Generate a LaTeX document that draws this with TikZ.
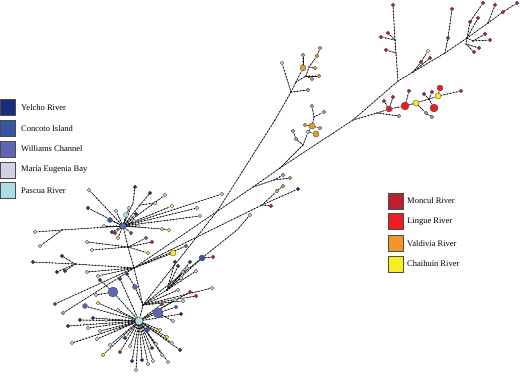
\documentclass[tikz,border=0pt]{standalone}
\usepackage{fontspec}
\setmainfont{Liberation Serif}
\usetikzlibrary{decorations.markings}
\pgfdeclarelayer{bg}
\pgfsetlayers{bg,main}
\definecolor{yel}{RGB}{28,45,125}
\definecolor{con}{RGB}{55,85,165}
\definecolor{wil}{RGB}{95,100,180}
\definecolor{mar}{RGB}{208,208,230}
\definecolor{pas}{RGB}{172,222,232}
\definecolor{mon}{RGB}{192,30,45}
\definecolor{lin}{RGB}{236,28,36}
\definecolor{val}{RGB}{242,150,40}
\definecolor{cha}{RGB}{248,236,35}
\definecolor{tan}{RGB}{190,160,115}
\tikzset{
 hap/.style={circle, draw=black!70, line width=0.35pt, inner sep=0pt, minimum size=3.6pt},
 link/.style={draw=black!85, line width=0.4pt, postaction={decorate, decoration={markings, mark=between positions 0 and 1 step 3.2pt with {\fill[black] (0,0) circle (0.65pt);}}}},
 keybox/.style={draw=black!70, line width=0.4pt, minimum width=15pt, minimum height=16pt, inner sep=0pt},
 keytext/.style={anchor=west, font=\fontsize{8.5}{10}\selectfont, inner sep=0pt}
}
\newcommand\HN[5][3.6]{\node[hap,fill=#5,minimum size=#1pt] (#2) at (#3,#4) {};}
\newcommand\LK[2]{\begin{pgfonlayer}{bg}\draw[link] (#1) -- (#2);\end{pgfonlayer}}
\newcommand\LF[6][3.6]{\HN[#1]{#3}{#4}{#5}{#6}\LK{#2}{#3}}
\newcommand\JC[3]{\coordinate (#1) at (#2,#3);}
\begin{document}
\begin{tikzpicture}[x=1pt,y=-1pt]
\useasboundingbox (0,0) rectangle (520,377);
% ---------- legends ----------
\node[keybox,fill=yel] (k1) at (8,107.5) {};
\node[keytext] (t1) at (21,107.5) {Yelcho River};
\node[keybox,fill=con] (k2) at (8,128.3) {};
\node[keytext] (t2) at (21,128.3) {Concoto Island};
\node[keybox,fill=wil] (k3) at (8,149.1) {};
\node[keytext] (t3) at (21,149.1) {Williams Channel};
\node[keybox,fill=mar] (k4) at (8,169.9) {};
\node[keytext] (t4) at (21,169.9) {María Eugenia Bay};
\node[keybox,fill=pas] (k5) at (8,190.7) {};
\node[keytext] (t5) at (21,190.7) {Pascua River};
\node[keybox,fill=mon] (k6) at (396,201) {};
\node[keytext] (t6) at (407,201) {Moncul River};
\node[keybox,fill=lin] (k7) at (396,221.5) {};
\node[keytext] (t7) at (407,221.5) {Lingue River};
\node[keybox,fill=val] (k8) at (396,243.5) {};
\node[keytext] (t8) at (407,243.5) {Valdivia River};
\node[keybox,fill=cha] (k9) at (396,264) {};
\node[keytext] (t9) at (407,264) {Chaihuín River};
% ---------- backbone ----------
\HN[6]{c2}{123}{226}{wil}
\LF[5]{c2}{c2a}{126}{215}{pas}
\LF[5]{c2}{c2b}{110}{220}{con}
\JC{bb1}{128}{247}
\JC{vm}{134}{268}
\JC{hub}{143}{305}
\HN[8]{c1}{139}{321}{pas}
\LK{c2}{bb1}\LK{bb1}{vm}\LK{vm}{hub}\LK{hub}{c1}
% ---------- main line ----------
\JC{m1}{253}{187}\JC{m2}{280}{168}\JC{m3}{353}{120}\JC{m4}{398}{81}
\JC{mj}{413}{72}\JC{m5}{445}{53}\JC{m6}{467}{38}\JC{m6c}{488}{23}
\HN{m7}{503}{12}{mon}\HN{mend}{517}{3}{mon}
\LK{vm}{m1}\LK{m1}{m2}\LK{m2}{m3}\LK{m3}{m4}\LK{m4}{mj}\LK{mj}{m5}
\LK{m5}{m6}\LK{m6}{m6c}\LK{m6c}{m7}\LK{m7}{mend}
% north branches
\JC{nb1}{396}{53}\JC{nb2}{395}{40}
\LK{m4}{nb1}\LK{nb1}{nb2}
\LF{nb2}{n1}{393}{5}{mon}
\LF{nb1}{n2}{386}{50}{mon}
\LF{nb2}{n3}{381}{37}{mon}
\LF{nb2}{n4}{388}{33}{mon}
\HN{n6}{448}{38}{mon}\LK{m5}{n6}
\LF{n6}{n5}{452}{9}{mon}
\LF{mj}{n7}{421}{62}{mon}
\LF{n7}{n8}{428}{51}{cha!45!white}
\LF{mj}{n9}{430}{58}{mon}
\LF{m6}{n10}{470}{22}{mon}
\LF{n10}{n11}{483}{3}{mon}
\JC{m6a}{473}{41}\LK{m6}{m6a}
\LF{m6a}{n12}{485}{34}{mon}
\LF{m6a}{n13}{490}{40}{mon}
\JC{m6b}{466}{44}\LK{m6}{m6b}
\LF{m6b}{n14}{474}{52}{mon}
\LF{m6b}{n15}{479}{48}{mon}
\LF{m6c}{n16}{495}{5}{mon}
\LF{m6}{n17}{478}{18}{mon}
% red cluster
\JC{r1}{377}{113}\LK{m3}{r1}
\HN[6]{rA}{389}{109}{lin}\LK{r1}{rA}
\HN[8]{rB}{405}{106}{lin}\LK{rA}{rB}
\HN[6]{rC}{416}{103}{cha}\LK{rB}{rC}
\JC{rD}{429}{99}\LK{rC}{rD}
\HN[6]{rE}{438}{96}{cha}\LK{rD}{rE}
\LF{rE}{rEnd}{461}{91}{mon}
\LF[6]{rE}{rF}{440}{88}{lin}
\LF[8]{rD}{rG}{434}{108}{lin}
\LF{rA}{r2}{384}{101}{mon}
\LF{rA}{r3}{393}{97}{mon}
\LF{rB}{r4}{409}{91}{mon}
\LF{rD}{r5}{424}{94}{mon}
\LF{rD}{r6}{432}{92}{mon}
\LF{rC}{r7}{426}{113}{tan}
\LF{r7}{r8}{432}{117}{tan}
\LF{r1}{r9}{399}{116}{tan}
% top orange cluster
\JC{tA}{218}{210}\JC{tm}{275}{120}\JC{tB}{291}{92}\JC{tC}{296}{82}
\LK{hub}{tA}\LK{tA}{tm}\LK{tm}{tB}\LK{tB}{tC}
\LF{tB}{o1}{308}{90}{tan}
\LF{tB}{o2}{282}{63}{mar}
\HN[6]{ob}{303}{68}{val}\LK{tC}{ob}
\LF{ob}{o3}{303}{55}{tan}
\JC{tD}{306}{76}\LK{tC}{tD}
\LF{tD}{o4}{312}{79}{tan}
\LF{tD}{o5}{319}{76}{val}
\JC{tE}{309}{67}\LK{tD}{tE}
\LF{tE}{o6}{315}{68}{val}
\LF{tE}{o7}{317}{56}{val}
\LF{o7}{o8}{320}{48}{tan}
% second orange cluster
\JC{s1}{303}{145}\LK{m2}{s1}
\HN{s2}{308}{132}{pas}\LK{s1}{s2}
\HN[6]{sb1}{312}{126}{val}\LK{s2}{sb1}
\LF[6]{s2}{sb2}{316}{134}{val}
\LF{sb1}{s3}{305}{125}{val}
\JC{s4}{314}{117}\LK{sb1}{s4}
\LF{s4}{s5}{312}{106}{tan}
\LF{s4}{s6}{324}{112}{val}
\LF{sb1}{s7}{320}{128}{val}
\LF{s1}{s9}{296}{139}{tan}
\LF{s9}{s10}{293}{131}{tan}
% tan twig on main
\JC{tbj}{274}{180}\LK{m1}{tbj}
\LF{tbj}{tb1}{283}{175}{tan}
\LF{tbj}{tb2}{290}{178}{tan}
% other long lines
\JC{la1}{262}{205}\LK{vm}{la1}
\LF{la1}{la2}{298}{189}{yel}
\LF{la1}{la3}{277}{191}{cha!55!gray}
\LF{la3}{la4}{283}{186}{tan}
\LF{la1}{la5}{271}{206}{mon}
\JC{lb1}{237}{230}\LK{hub}{lb1}
\LF{lb1}{lb}{250}{215}{mar}
\LF[6]{vm}{ya}{173}{253}{cha}
\LF{vm}{yb}{186}{246}{wil}
\JC{ld1}{167}{290}\LK{hub}{ld1}
\LF[6]{ld1}{ld}{202}{258}{con}
\LF{ld}{ld2}{213}{257}{mon}
\foreach \x/\y/\c [count=\i] in {187/268/mar,190/262/yel,183/272/mar,178/266/yel,196/271/mar,181/278/mar,175/262/yel}
 {\LF{ld1}{ldf\i}{\x}{\y}{\c}}
\LF{hub}{le}{212}{288}{mar}
\LF{hub}{le2}{196}{296}{mon}
\LF{hub}{le3}{183}{301}{mar}
\LF{hub}{le4}{178}{290}{mar}
% upper cluster leaves
\LF{c2}{u1}{222}{194}{mar}
\LF{c2}{u2}{197}{208}{mar}
\LF{c2}{u2b}{200}{216}{mar}
\LF{c2}{u3}{172}{206}{cha!50!white}
\LF{c2}{u4}{165}{195}{mar}
\JC{u5j}{140}{205}\LK{c2}{u5j}
\LF{u5j}{u5}{150}{193}{yel}
\LF{u5j}{u5b}{155}{203}{mar}
\JC{u6j}{133}{203}\LK{c2}{u6j}
\LF{u6j}{u6}{135}{187}{yel}
\LF{c2}{u8}{162}{229}{mar}
\LF{u8}{u9}{169}{230}{cha}
\LF{bb1}{u10}{152}{242}{mon}
\LF{bb1}{u11}{148}{253}{cha}
\LF{bb1}{u12}{146}{238}{wil}
\LF{c2}{w1}{89}{190}{mar}
\LF{c2}{w2}{88}{208}{yel}
\JC{wj1}{62}{230}\LK{c2}{wj1}
\LF{wj1}{w3}{35}{232}{mar}
\LF{wj1}{w4}{40}{246}{mar}
\LF{bb1}{w6}{87}{242}{mar}
\LF{bb1}{w7}{92}{250}{mar}
\foreach \x/\y/\c [count=\i] in {115/233/mon,118/238/mar,131/233/con,134/221/mar,116/211/mar,129/208/mar,104/226/mar,112/232/yel,138/226/mar,136/214/yel}
 {\LF{c2}{uc\i}{\x}{\y}{\c}}
% long left horizontal
\JC{hj1}{75}{264}\LK{vm}{hj1}
\LF{hj1}{h1}{33}{262}{yel}
\LF{hj1}{h2}{62}{256}{yel}
\LF{hj1}{h3}{57}{272}{yel}
\LF{hj1}{h4}{65}{271}{yel}
\LF{vm}{h5}{87}{272}{mar}
\LF{vm}{h6}{98}{276}{mar}
\LF{vm}{d1}{55}{304}{mon}
\LF{vm}{d2}{63}{313}{tan}
% lower cluster
\HN[10]{b1}{113}{292}{wil}\LK{c1}{b1}
\HN[10]{b2}{158}{313}{wil}\LK{c1}{b2}
\HN[5]{b3}{85}{306}{wil}\LK{c1}{b3}
\HN[5]{b4}{147}{330}{con}\LK{c1}{b4}
\HN[5]{b5}{135}{287}{wil}\LK{hub}{b5}
\LF{b1}{bx1}{100}{280}{yel}
\LF{b1}{bx2}{96}{295}{mar}
\LF{b2}{bx3}{173}{321}{mar}
\LF{b2}{bx4}{176}{307}{wil}
\LF{b5}{bx5}{127}{274}{yel}
\foreach \x/\y/\c [count=\i] in {120/279/yel,98/303/cha,93/318/yel,80/320/yel,88/328/mar,100/331/mar,97/339/mar,103/355/cha,130/346/mar,132/361/yel,142/360/yel,148/364/mar,153/361/mar,168/362/mar,162/355/mar,180/350/yel,172/343/mar,167/337/cha,181/314/yel,175/300/mar,162/304/mon,190/292/mon,110/345/mar,120/352/mon,72/343/mar,68/326/yel,136/370/mar,116/330/mar,125/338/yel,156/344/mar,160/330/cha,106/320/mar,152/348/yel,118/310/mar}
 {\LF{c1}{lc\i}{\x}{\y}{\c}}
\end{tikzpicture}
\end{document}
